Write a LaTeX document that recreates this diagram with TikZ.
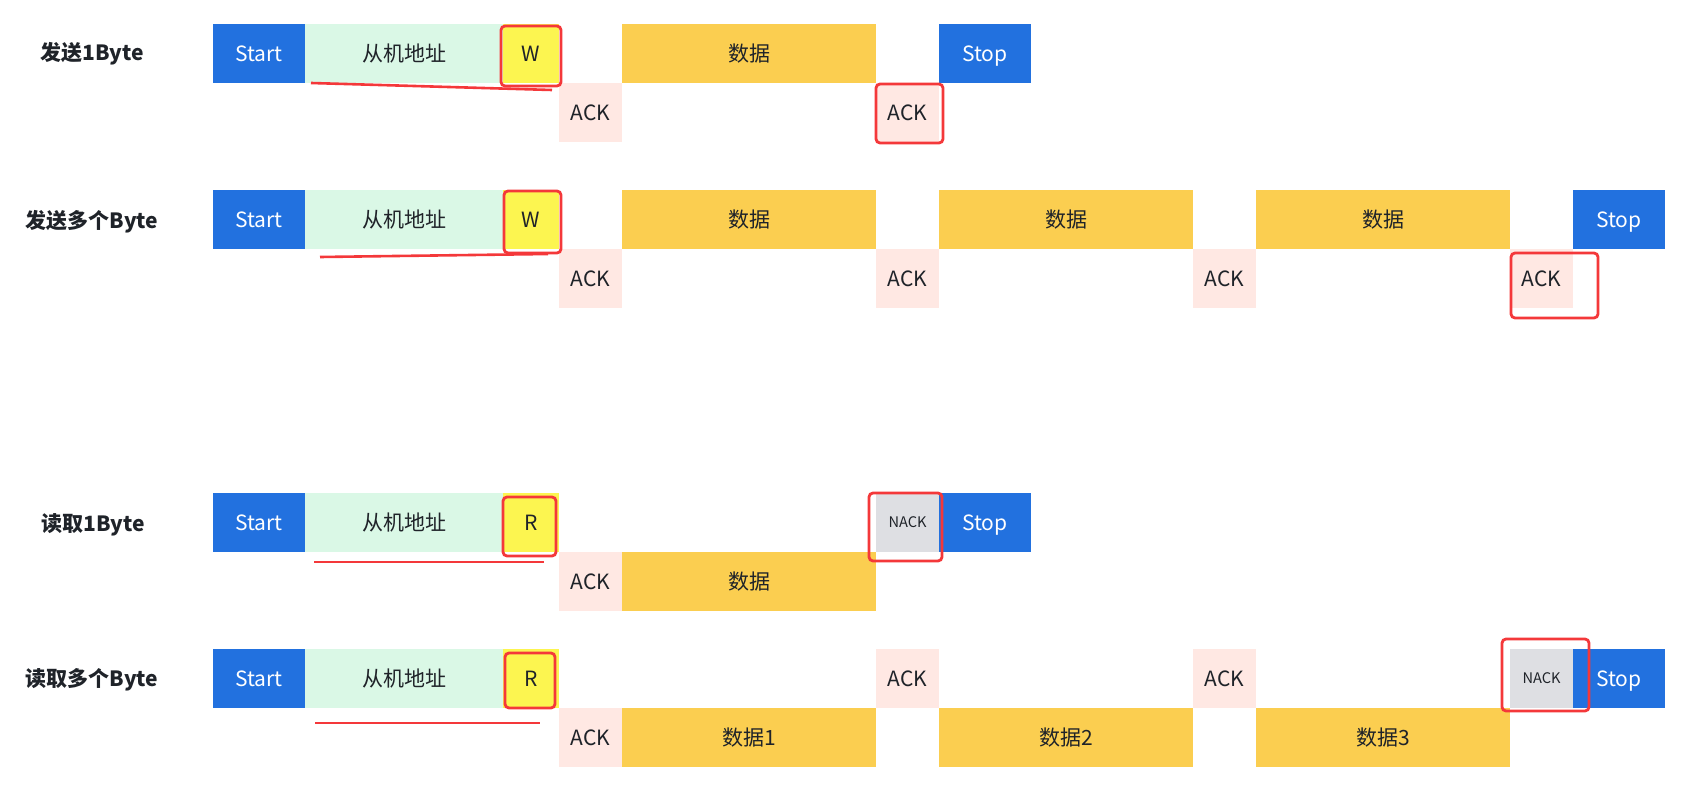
\documentclass[tikz,border=0pt]{standalone}
\usepackage{fontspec}
\setmainfont{Noto Sans CJK SC}
\usetikzlibrary{positioning}
\definecolor{startblue}{HTML}{2271DF}
\definecolor{addrgreen}{HTML}{DAF8E6}
\definecolor{rwyellow}{HTML}{FCF550}
\definecolor{ackpink}{HTML}{FFE8E3}
\definecolor{datayellow}{HTML}{FBCE50}
\definecolor{nackgray}{HTML}{DEDFE3}
\definecolor{markred}{HTML}{F4383A}
\definecolor{ink}{HTML}{1F2329}

\begin{document}
\begin{tikzpicture}
[x=0.5pt,y=-0.5pt,
every node/.style={inner sep=0pt, outer sep=0pt, text=ink,
font=\fontsize{10.5}{12}\selectfont},
field/.style ={minimum height=29.5pt, text height=9pt, text depth=1.3pt},
startbox/.style ={field, fill=startblue, text=white, minimum width=46pt},
addrbox/.style ={field, fill=addrgreen, minimum width=99pt},
rwbox/.style ={field, fill=rwyellow, minimum width=28pt},
ackbox/.style ={field, fill=ackpink, minimum width=31.5pt},
nackbox/.style ={field, fill=nackgray, minimum width=31.5pt,
text height=6.5pt, text depth=1.2pt,
font=\fontsize{7.3}{9}\selectfont},
databox/.style ={field, fill=datayellow, minimum width=127pt},
rowlabel/.style ={font=\fontsize{10.5}{12}\selectfont\bfseries},
hlbox/.style ={draw=markred, line width=1.4pt, rounded corners=2pt},
underl/.style ={draw=markred, line width=1.3pt}]
\useasboundingbox (0,0) rectangle (1695,786);
% row 1 : send one byte
\node [rowlabel] (lab1) at (92,54) {发送1Byte};
\node [startbox, anchor=north west] (st1) at (213,24) {Start};
\node [addrbox, right=0pt of st1] (addr1) {从机地址};
\node [rwbox, right=0pt of addr1] (w1) {W};
\node [ackbox, below right=0pt of w1] (ack1a) {ACK};
\node [databox, above right=0pt of ack1a] (data1) {数据};
\node [ackbox, below right=0pt of data1] (ack1b) {ACK};
\node [startbox, above right=0pt of ack1b] (sp1) {Stop};
% row 2 : send several bytes
\node [rowlabel] (lab2) at (92,222) {发送多个Byte};
\node [startbox, anchor=north west] (st2) at (213,190) {Start};
\node [addrbox, right=0pt of st2] (addr2) {从机地址};
\node [rwbox, right=0pt of addr2] (w2) {W};
\node [ackbox, below right=0pt of w2] (ack2a) {ACK};
\node [databox, above right=0pt of ack2a] (data2a) {数据};
\node [ackbox, below right=0pt of data2a] (ack2b) {ACK};
\node [databox, above right=0pt of ack2b] (data2b) {数据};
\node [ackbox, below right=0pt of data2b] (ack2c) {ACK};
\node [databox, above right=0pt of ack2c] (data2c) {数据};
\node [ackbox, below right=0pt of data2c] (ack2d) {ACK};
\node [startbox, above right=0pt of ack2d] (sp2) {Stop};
% row 3 : read one byte
\node [rowlabel] (lab3) at (93,525) {读取1Byte};
\node [startbox, anchor=north west] (st3) at (213,493) {Start};
\node [addrbox, right=0pt of st3] (addr3) {从机地址};
\node [rwbox, right=0pt of addr3] (r3) {R};
\node [ackbox, below right=0pt of r3] (ack3) {ACK};
\node [databox, right=0pt of ack3] (data3) {数据};
\node [nackbox, above right=0pt of data3] (nack3) {NACK};
\node [startbox, right=0pt of nack3] (sp3) {Stop};
% row 4 : read several bytes
\node [rowlabel] (lab4) at (92,680) {读取多个Byte};
\node [startbox, anchor=north west] (st4) at (213,649) {Start};
\node [addrbox, right=0pt of st4] (addr4) {从机地址};
\node [rwbox, right=0pt of addr4] (r4) {R};
\node [ackbox, below right=0pt of r4] (ack4a) {ACK};
\node [databox, right=0pt of ack4a] (data4a) {数据1};
\node [ackbox, above right=0pt of data4a] (ack4b) {ACK};
\node [databox, below right=0pt of ack4b] (data4b) {数据2};
\node [ackbox, above right=0pt of data4b] (ack4c) {ACK};
\node [databox, below right=0pt of ack4c] (data4c) {数据3};
\node [nackbox, above right=0pt of data4c] (nack4) {NACK};
\node [startbox, right=0pt of nack4] (sp4) {Stop};
% red marks
\draw [hlbox] (501,26) rectangle (561,86);
\draw [hlbox] (876,84) rectangle (943,143);
\draw [hlbox] (504,191) rectangle (561,253);
\draw [hlbox] (1511,253) rectangle (1598,318);
\draw [hlbox] (503,497) rectangle (556,556);
\draw [hlbox] (869,493) rectangle (942,561);
\draw [hlbox] (505,653) rectangle (555,708);
\draw [hlbox] (1502,639) rectangle (1589,711);
\path [underl] (311,83) -- (552,90);
\path [underl] (320,257) -- (548,254);
\path [underl] (314,562) -- (544,562);
\path [underl] (315,723) -- (540,723);
\end{tikzpicture}
\end{document}
